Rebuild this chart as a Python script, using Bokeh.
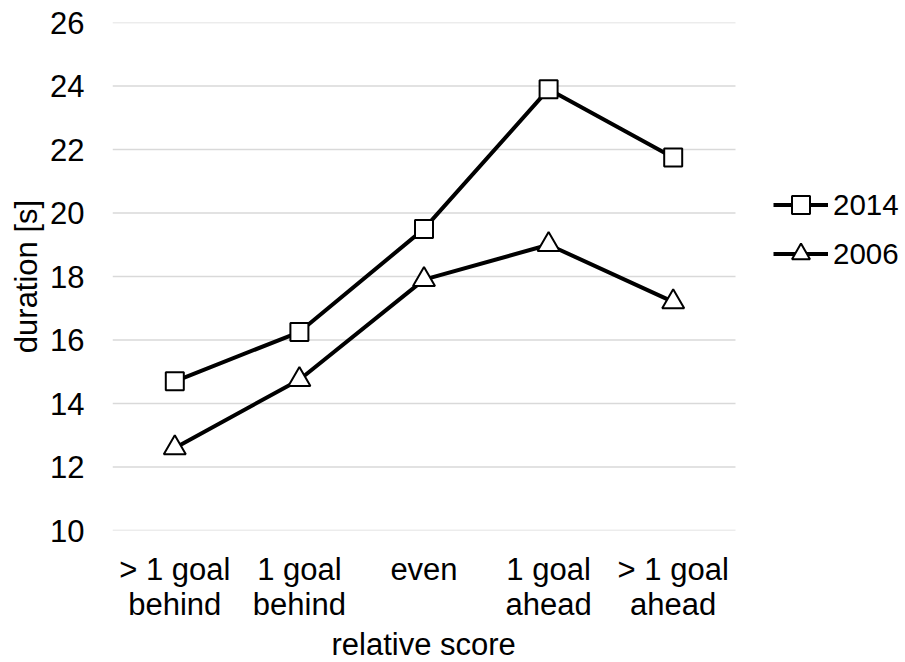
from bokeh.plotting import figure
from bokeh.models import FixedTicker, Legend, LegendItem, Range1d, Title
from bokeh.embed import file_html
from bokeh.resources import INLINE

categories = ["> 1 goal\nbehind", "1 goal\nbehind", "even", "1 goal\nahead", "> 1 goal\nahead"]
positions = [1, 2, 3, 4, 5]
y2014 = [14.7, 16.25, 19.5, 23.9, 21.75]
y2006 = [12.6, 14.75, 17.9, 19.0, 17.2]
y_ticks = [10, 12, 14, 16, 18, 20, 22, 24, 26]

FONT = "Liberation Sans"
FS = "31px"

W, H = 905, 662
FRAME_L, FRAME_R, FRAME_T, FRAME_B = 112, 905, 22, 530
CAT_PX = 124.6  # pixels per category
x_end = 0.5 + (FRAME_R - FRAME_L) / CAT_PX

p = figure(width=W, height=H, output_backend="svg", toolbar_location=None,
           x_range=Range1d(0.5, x_end), y_range=Range1d(10, 26),
           min_border_left=FRAME_L, min_border_right=W - FRAME_R, min_border_top=FRAME_T,
           min_border_bottom=H - FRAME_B)
p.outline_line_color = None
p.background_fill_color = "white"
p.border_fill_color = "white"

p.xgrid.visible = False
p.ygrid.visible = False
# horizontal gridlines limited to the category area
p.segment(x0=[0.5] * len(y_ticks), x1=[5.5] * len(y_ticks), y0=y_ticks, y1=y_ticks,
          line_color="#d9d9d9", line_width=1.5)

p.yaxis.ticker = FixedTicker(ticks=y_ticks)
p.xaxis.ticker = FixedTicker(ticks=positions)
p.xaxis.major_label_overrides = {pos: lab for pos, lab in zip(positions, categories)}

for ax in (p.xaxis[0], p.yaxis[0]):
    ax.axis_line_color = None
    ax.major_tick_line_color = None
    ax.minor_tick_line_color = None
    ax.major_label_text_font = FONT
    ax.major_label_text_font_size = FS
    ax.major_label_text_color = "black"
    ax.major_label_text_line_height = 1.0
    ax.axis_label_text_font = FONT
    ax.axis_label_text_font_size = FS
    ax.axis_label_text_font_style = "normal"
    ax.axis_label_text_color = "black"
    ax.axis_label_text_line_height = 1.0

p.yaxis.axis_label = "duration [s]"
p.yaxis.major_label_standoff = 22
p.yaxis.axis_label_standoff = 3
p.xaxis.major_label_standoff = 15

# x-axis title centred under the category area
x_title = Title(text="relative score", align="left", offset=219, standoff=0,
                text_font=FONT, text_font_size=FS, text_font_style="normal",
                text_color="black", text_line_height=1.0)
p.add_layout(x_title, "below")

l1 = p.line(positions, y2014, line_color="black", line_width=4)
m1 = p.scatter(positions, y2014, marker="square", size=18, fill_color="white",
               line_color="black", line_width=2)
l2 = p.line(positions, y2006, line_color="black", line_width=4)
m2 = p.scatter(positions, y2006, marker="triangle", size=22, fill_color="white",
               line_color="black", line_width=2)

legend = Legend(items=[LegendItem(label="2014", renderers=[l1, m1]),
                       LegendItem(label="2006", renderers=[l2, m2])],
                location=(661, 254), padding=0, margin=0, spacing=4,
                glyph_width=55, glyph_height=45, label_standoff=5, label_height=30,
                label_text_font=FONT, label_text_font_size="29.5px", label_text_color="black",
                border_line_color=None, background_fill_alpha=0)
p.add_layout(legend, "center")

open("out.html", "w").write(file_html(p, INLINE))
